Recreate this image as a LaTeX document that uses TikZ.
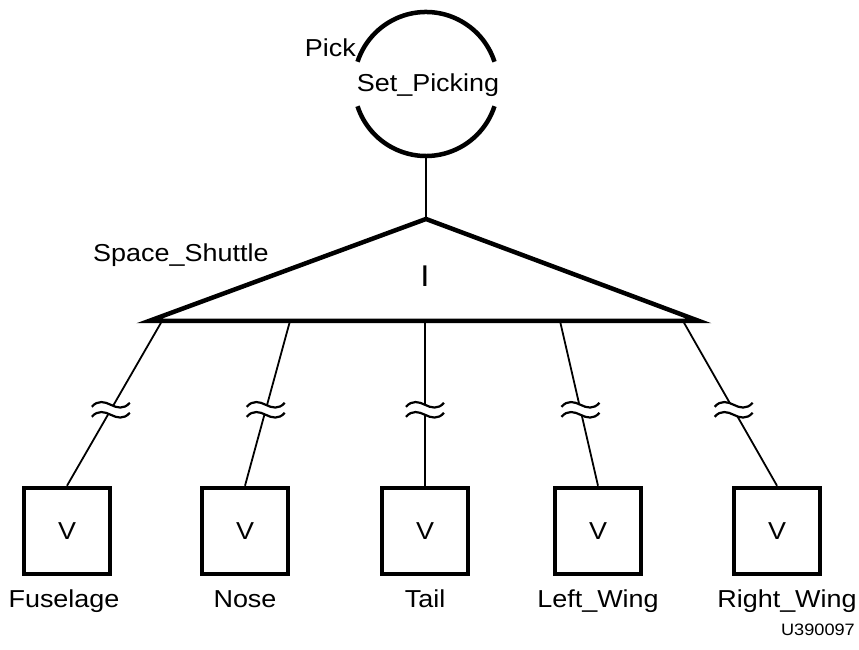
\documentclass[tikz,border=0pt]{standalone}
\usepackage{fontspec}
\setmainfont{Liberation Sans}[FakeStretch=1.1]
\usetikzlibrary{calc}
\begin{document}
\begin{tikzpicture}[x=1pt,y=1pt,
  thinline/.style={line width=1.8pt},
  heavy/.style={line width=4.5pt},
  lbl/.style={font=\fontsize{24.5}{28}\selectfont, inner sep=0pt},
  leaf/.style={draw, line width=4.5pt, minimum width=86pt, minimum height=86pt, inner sep=0pt, font=\fontsize{24.5}{28}\selectfont},
  squig/.pic={
    \path[fill=white] (-19,3) .. controls (-13,10) and (-6,8) .. (0,5) .. controls (6,2) and (13,0) .. (19,7)
      -- (19,-3) .. controls (13,-10) and (6,-8) .. (0,-5) .. controls (-6,-2) and (-13,0) .. (-19,-7) -- cycle;
    \draw[line width=2.2pt] (-19,3) .. controls (-13,10) and (-6,8) .. (0,5) .. controls (6,2) and (13,0) .. (19,7);
    \draw[line width=2.2pt] (-19,-7) .. controls (-13,0) and (-6,-2) .. (0,-5) .. controls (6,-8) and (13,-10) .. (19,-3);
  }]
\useasboundingbox (0,0) rectangle (859,650);
% circle
\coordinate (cc) at (426,566);
\draw[heavy] ([shift={(18:72)}]cc) arc[start angle=18,end angle=162,radius=72];
\draw[heavy] ([shift={(198:72)}]cc) arc[start angle=198,end angle=342,radius=72];
\coordinate (cbot) at (426,494);
\node[lbl, anchor=base] (setp) at (428,558) {Set\_Picking};
\node[lbl, anchor=base east] (pick) at (356,593) {Pick};
% triangle
\coordinate (apex) at (426,431);
\coordinate (tl) at (149,329);
\coordinate (tr) at (699,329);
\draw[thinline] (cbot) -- (apex);
\draw[heavy, line join=miter] (tl) -- (apex) -- (tr) -- cycle;
\node[lbl, anchor=base west] (ss) at (93,388) {Space\_Shuttle};
\node[font=\fontsize{30}{34}\selectfont, inner sep=0pt] (ii) at (425,374) {I};
% attachment points
\coordinate (b1) at (162,329);
\coordinate (b2) at (290,329);
\coordinate (b3) at (425,329);
\coordinate (b4) at (560,329);
\coordinate (b5) at (683,329);
% boxes
\node[leaf] (v1) at (67,119) {V};
\node[leaf] (v2) at (245,119) {V};
\node[leaf] (v3) at (425,119) {V};
\node[leaf] (v4) at (598,119) {V};
\node[leaf] (v5) at (777,119) {V};
% labels
\node[lbl, anchor=base] (l1) at (64,42) {Fuselage};
\node[lbl, anchor=base] (l2) at (245,42) {Nose};
\node[lbl, anchor=base] (l3) at (425,42) {Tail};
\node[lbl, anchor=base] (l4) at (598,42) {Left\_Wing};
\node[lbl, anchor=base] (l5) at (787,42) {Right\_Wing};
\node[font=\fontsize{16.5}{19}\selectfont, inner sep=0pt, anchor=base east] (code) at (855,14) {U390097};
% connectors
\foreach \i in {1,...,5}{
  \draw[thinline] (b\i) -- (v\i.north);
  \pic at ($(b\i)!0.539!(v\i.north)$) {squig};
}
\end{tikzpicture}
\end{document}
